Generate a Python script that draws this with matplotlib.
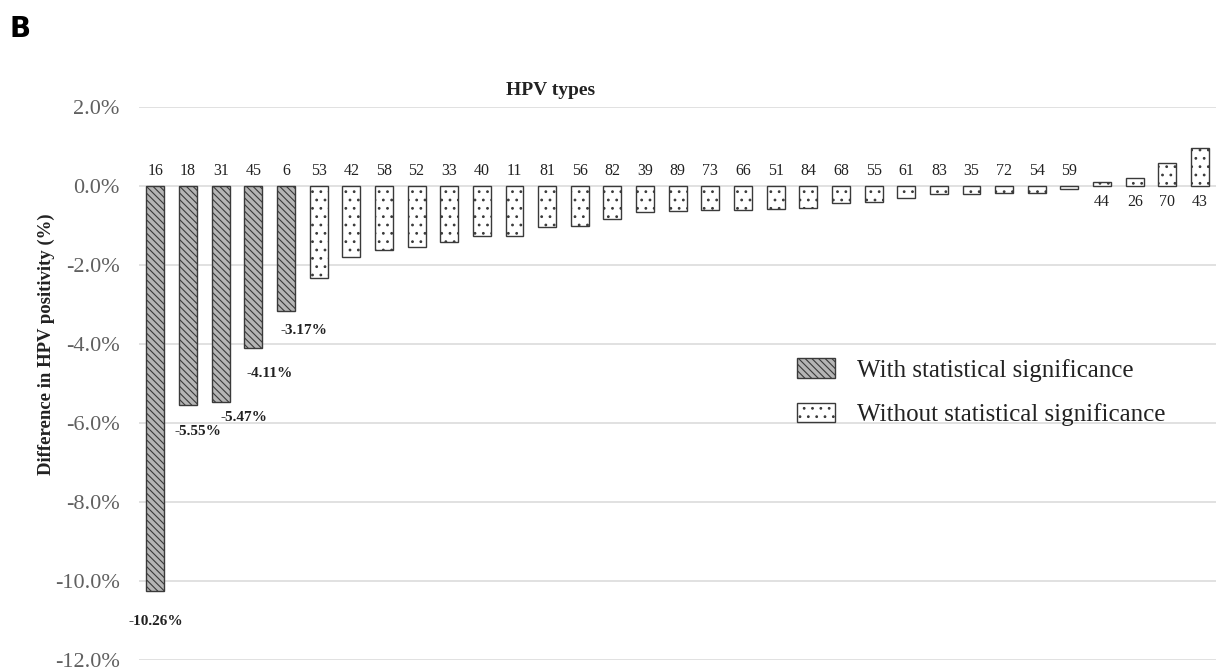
import matplotlib.pyplot as plt
import numpy as np
from matplotlib.patches import Patch

plt.rcParams['font.family'] = ['Liberation Serif', 'DejaVu Serif']
plt.rcParams['hatch.linewidth'] = 0.8

hpv_types = ['16', '18', '31', '45', '6', '53', '42', '58', '52', '33', '40', '11',
             '81', '56', '82', '39', '89', '73', '66', '51', '84', '68', '55', '61',
             '83', '35', '72', '54', '59', '44', '26', '70', '43']
diff = [-10.26, -5.55, -5.47, -4.11, -3.17, -2.33, -1.80, -1.62, -1.56, -1.42, -1.28, -1.27,
        -1.04, -1.01, -0.83, -0.67, -0.63, -0.62, -0.61, -0.58, -0.56, -0.44, -0.40, -0.31,
        -0.21, -0.20, -0.19, -0.17, -0.08, 0.10, 0.19, 0.57, 0.97]
significant = [True] * 5 + [False] * 28
yticks = [2, 0, -2, -4, -6, -8, -10, -12]

# label nudges (x in category units, y in points) for the value labels
label_dx = [0.0, 0.3, 0.7, 0.5, 0.55]
label_dy = [-22, -19, -11, -18, -14]

fig = plt.figure(figsize=(12.2, 6.72), dpi=100)
ax = fig.add_axes([0.114, 0.018, 0.883, 0.823])

x = np.arange(len(hpv_types))
for i, (v, s) in enumerate(zip(diff, significant)):
    if s:
        ax.bar(x[i], v, width=0.55, facecolor='#b5b5b5', edgecolor='#3a3a3a',
               hatch='\\\\\\\\\\', linewidth=1.0, zorder=3)
    else:
        ax.bar(x[i], v, width=0.55, facecolor='white', edgecolor='#3a3a3a',
               hatch='..', linewidth=1.0, zorder=3)

# category labels
for i, v in enumerate(diff):
    if v < 0:
        ax.annotate(hpv_types[i], (x[i], 0), xytext=(0, 5), textcoords='offset points',
                    ha='center', va='bottom', fontsize=11.5, color='#222222')
    else:
        ax.annotate(hpv_types[i], (x[i], 0), xytext=(0, -6), textcoords='offset points',
                    ha='center', va='top', fontsize=11.5, color='#222222')

# value labels on significant bars
for i in range(5):
    ax.annotate('%.2f%%' % diff[i], (x[i] + label_dx[i], diff[i]), xytext=(0, label_dy[i]),
                textcoords='offset points', ha='center', va='center', fontsize=11,
                fontweight='bold', color='#222222')

ax.set_xlim(-0.5, len(hpv_types) - 0.5)
ax.set_ylim(-12, 2)
ax.set_yticks(yticks)
ax.set_yticklabels(['%.1f%%' % t for t in yticks], color='#606060', fontsize=16)
ax.set_xticks([])
ax.tick_params(axis='y', length=0, pad=14)
ax.grid(axis='y', color='#dcdcdc', linewidth=1.2, zorder=0)
for sp in ax.spines.values():
    sp.set_visible(False)

ax.set_ylabel('Difference in HPV positivity (%)', fontsize=13.5, fontweight='bold',
              color='#222222')
ax.yaxis.set_label_coords(-0.078, 0.57)
ax.text(0.382, 1.03, 'HPV types', transform=ax.transAxes, ha='center', va='center',
        fontsize=14, fontweight='bold', color='#222222')
fig.text(0.008, 0.945, 'B', fontsize=20, fontweight='bold', family='DejaVu Sans')

handles = [Patch(facecolor='#b5b5b5', edgecolor='#3a3a3a', hatch='\\\\\\\\\\', label='With statistical significance'),
           Patch(facecolor='white', edgecolor='#3a3a3a', hatch='..', label='Without statistical significance')]
ax.legend(handles=handles, loc='upper left', bbox_to_anchor=(0.611, 0.545), frameon=False,
          fontsize=18, handlelength=1.5, handleheight=0.8, handletextpad=0.9,
          labelspacing=0.85, borderpad=0, borderaxespad=0, labelcolor='#222222')

plt.savefig('out.png', dpi=100)
